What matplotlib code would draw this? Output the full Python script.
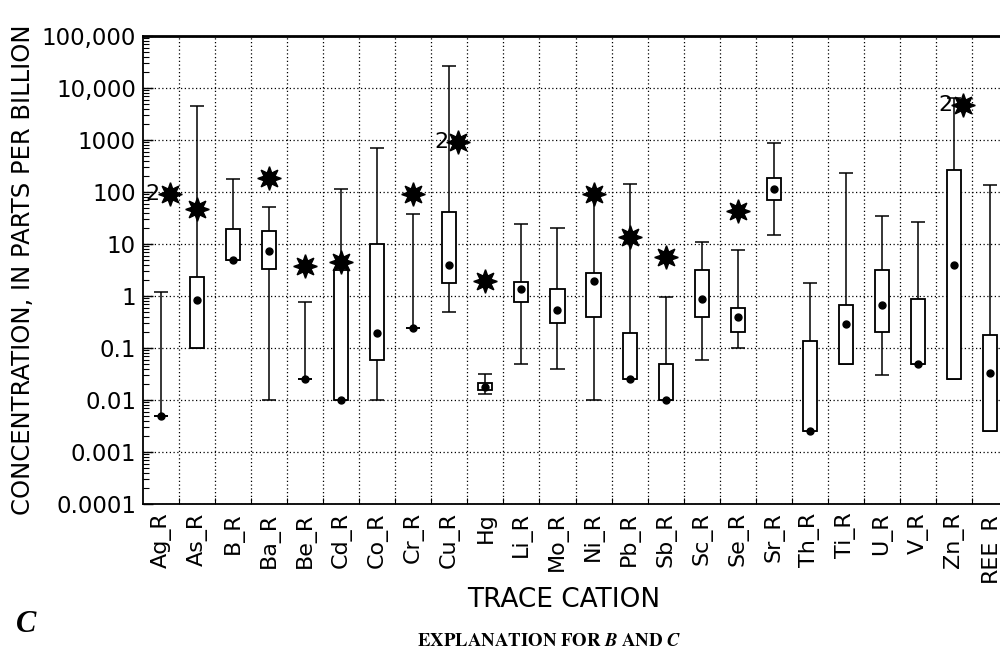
import numpy as np
import matplotlib
matplotlib.use("Agg")
import matplotlib.pyplot as plt
from matplotlib.ticker import FixedLocator, NullFormatter, LogLocator

plt.rcParams['font.family'] = ['DejaVu Sans']
plt.rcParams['mathtext.fontset'] = 'stix'

# trace cation summary statistics, parts per billion
cations = ['Ag_R', 'As_R', 'B_R', 'Ba_R', 'Be_R', 'Cd_R', 'Co_R', 'Cr_R', 'Cu_R', 'Hg',
           'Li_R', 'Mo_R', 'Ni_R', 'Pb_R', 'Sb_R', 'Sc_R', 'Se_R', 'Sr_R', 'Th_R', 'Ti_R',
           'U_R', 'V_R', 'Zn_R', 'REE_R']
whisker_lo = [0.005, 0.1, 4.9, 0.01, 0.025, 0.01, 0.01, 0.245, 0.49, 0.013,
              0.05, 0.04, 0.01, 0.025, 0.01, 0.06, 0.1, 14.7, 0.0025, 0.05,
              0.03, 0.05, 0.025, 0.0025]
q1 = [0.005, 0.1, 4.9, 3.3, 0.025, 0.01, 0.06, 0.245, 1.75, 0.0155,
      0.78, 0.3, 0.39, 0.025, 0.01, 0.39, 0.2, 71, 0.0025, 0.05,
      0.2, 0.05, 0.025, 0.0025]
median = [0.005, 0.85, 4.9, 7.2, 0.025, 0.01, 0.19, 0.245, 3.9, 0.0175,
          1.35, 0.54, 1.94, 0.025, 0.01, 0.86, 0.39, 115, 0.0025, 0.29,
          0.68, 0.05, 3.9, 0.033]
q3 = [0.005, 2.3, 19, 18, 0.025, 3.1, 10, 0.245, 41, 0.021,
      1.86, 1.36, 2.8, 0.197, 0.049, 3.1, 0.6, 188, 0.138, 0.68,
      3.1, 0.87, 262, 0.175]
whisker_hi = [1.2, 4500, 180, 52, 0.78, 115, 710, 38, 27000, 0.032,
              24.5, 20.5, 90, 145, 0.97, 10.8, 7.7, 865, 1.75, 232,
              35, 27, 6500, 136]

# outliers: (cation index, value, count)
outlier_idx = [0, 1, 3, 4, 5, 7, 8, 9, 12, 13, 14, 16, 22]
outlier_val = [90, 47, 185, 3.8, 4.6, 90, 920, 1.95, 92, 13.8, 5.5, 44, 4700]
outlier_n = [2, 1, 1, 1, 1, 1, 2, 1, 1, 1, 1, 1, 2]

ytick_vals = [1e-4, 1e-3, 1e-2, 1e-1, 1, 10, 100, 1000, 1e4, 1e5]
ytick_labels = ['0.0001', '0.001', '0.01', '0.1', '1', '10', '100', '1000', '10,000', '100,000']

fig = plt.figure(figsize=(10, 6.54), dpi=100)
ax = fig.add_axes([0.143, 0.2294, 0.865, 0.7156])

x = np.arange(len(cations))
lo = np.array(whisker_lo)
hi = np.array(whisker_hi)
b1 = np.array(q1)
b3 = np.array(q3)
box_w = 0.39
lw = 1.1

ax.vlines(x, lo, hi, color='black', lw=lw, zorder=3)
ax.hlines(lo, x - box_w / 2, x + box_w / 2, color='black', lw=lw, zorder=3)
ax.hlines(hi, x - box_w / 2, x + box_w / 2, color='black', lw=lw, zorder=3)
ax.bar(x, b3 - b1, bottom=b1, width=box_w, facecolor='white', edgecolor='black',
       linewidth=lw * 1.2, zorder=4)
ax.plot(x, median, 'o', color='black', markersize=5, zorder=5)

# outliers, multiple ones shifted right with a count label
ox = np.array(outlier_idx, dtype=float)
on = np.array(outlier_n)
ox = ox + np.where(on > 1, 0.25, 0.0)
ax.plot(ox, outlier_val, linestyle='none', marker=(8, 1, 0), markersize=17,
        color='black', zorder=6)
for xi, v, n in zip(ox, outlier_val, outlier_n):
    if n > 1:
        ax.text(xi - 0.28, v, str(n), ha='right', va='center', fontsize=16, zorder=7)

ax.set_yscale('log')
ax.set_ylim(1e-4, 1e5)
ax.set_xlim(-0.5, len(cations) - 0.5)

ax.yaxis.set_major_locator(FixedLocator(ytick_vals))
ax.set_yticklabels(ytick_labels, fontsize=16.5)
ax.yaxis.set_minor_locator(LogLocator(base=10, subs=np.arange(2, 10)))
ax.yaxis.set_minor_formatter(NullFormatter())
ax.tick_params(axis='y', which='major', direction='in', length=7, width=1, pad=5)
ax.tick_params(axis='y', which='minor', direction='in', length=4, width=0.8)

# grid lines fall between categories, labels sit at category centres
ax.xaxis.set_major_locator(FixedLocator(np.arange(len(cations)) + 0.5))
ax.xaxis.set_major_formatter(NullFormatter())
ax.xaxis.set_minor_locator(FixedLocator(x))
ax.set_xticklabels(cations, minor=True, rotation=90, fontsize=16)
ax.tick_params(axis='x', which='major', direction='in', length=4, width=0.8)
ax.tick_params(axis='x', which='minor', length=0, pad=6)

ax.grid(True, which='major', color='black', linestyle=(0, (1, 2)), linewidth=0.9)
ax.set_axisbelow(True)
for side in ['left', 'bottom', 'top', 'right']:
    ax.spines[side].set_linewidth(1.3)
ax.spines['top'].set_linewidth(2.0)

ax.set_ylabel('CONCENTRATION, IN PARTS PER BILLION', fontsize=17.5, labelpad=5)
fig.text(0.564, 0.083, 'TRACE CATION', ha='center', va='center', fontsize=19)
fig.text(0.026, 0.045, 'C', ha='center', va='center', fontsize=22, family='Liberation Serif',
         style='italic', weight='bold')
fig.text(0.549, 0.020, r'$\mathbf{EXPLANATION\ FOR\ }\mathbfit{B}\mathbf{\ AND\ }\mathbfit{C}$',
         ha='center', va='center', fontsize=13.5)

fig.savefig('out.png', dpi=100)
